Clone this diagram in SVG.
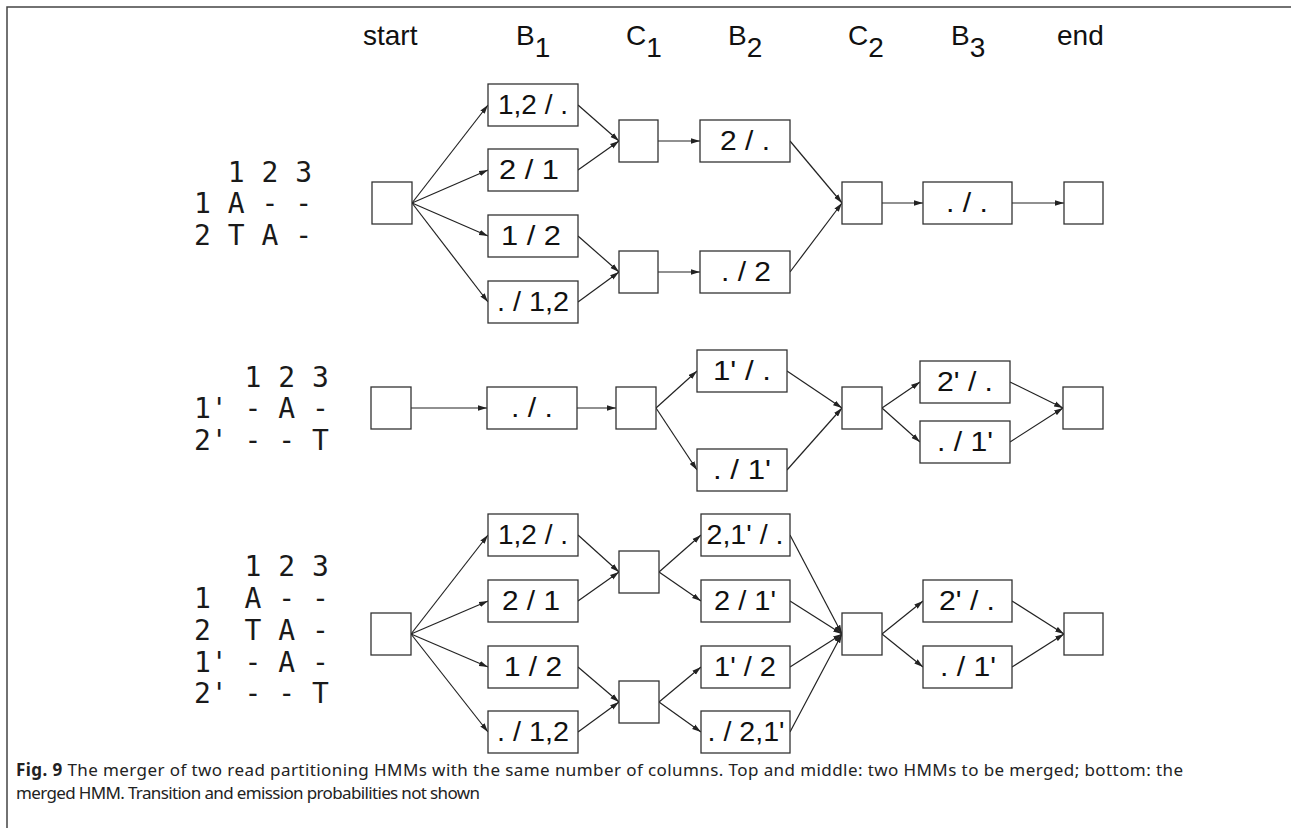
<svg xmlns="http://www.w3.org/2000/svg" width="1291" height="828" viewBox="0 0 1291 828">
<style>
.frame{stroke:#444;stroke-width:1.5;fill:none}
.box{fill:#fff;stroke:#333;stroke-width:1.3}
.lbl{font-family:"Liberation Sans",Arial,sans-serif;font-size:27px;fill:#111;text-anchor:middle}
.hdr{font-family:"Liberation Sans",Arial,sans-serif;font-size:28px;fill:#111}
.aln{font-family:"DejaVu Sans Mono",monospace;font-size:28px;fill:#1a1a1a;white-space:pre}
.cap{font-family:"Noto Sans","Open Sans",sans-serif;font-size:17px;fill:#222}
.edge{stroke:#222;stroke-width:1.2;fill:none;marker-end:url(#arr)}
</style>
<defs>
<marker id="arr" markerUnits="userSpaceOnUse" viewBox="0 0 10 6" refX="10" refY="3" markerWidth="9" markerHeight="6" orient="auto">
<path d="M0,0 L10,3 L0,6 z" fill="#222"/>
</marker>
</defs>
<rect width="1291" height="828" fill="#fff"/>
<path class="frame" d="M7,828 V7 H1291"/>

<g id="headers">
<text class="hdr" x="363" y="45">start</text>
<text class="hdr" x="516" y="45">B<tspan dy="12">1</tspan></text>
<text class="hdr" x="626" y="45">C<tspan dy="12">1</tspan></text>
<text class="hdr" x="728" y="45">B<tspan dy="12">2</tspan></text>
<text class="hdr" x="848" y="45">C<tspan dy="12">2</tspan></text>
<text class="hdr" x="951" y="45">B<tspan dy="12">3</tspan></text>
<text class="hdr" x="1057" y="45">end</text>
</g>

<g id="alignment-top">
<text class="aln" x="194" y="182" xml:space="preserve">  1 2 3</text>
<text class="aln" x="194" y="213" xml:space="preserve">1 A - -</text>
<text class="aln" x="194" y="245" xml:space="preserve">2 T A -</text>
</g>
<g id="alignment-middle">
<text class="aln" x="194" y="387" xml:space="preserve">   1 2 3</text>
<text class="aln" x="194" y="418" xml:space="preserve">1' - A -</text>
<text class="aln" x="194" y="450" xml:space="preserve">2' - - T</text>
</g>
<g id="alignment-bottom">
<text class="aln" x="194" y="576" xml:space="preserve">   1 2 3</text>
<text class="aln" x="194" y="608" xml:space="preserve">1  A - -</text>
<text class="aln" x="194" y="640" xml:space="preserve">2  T A -</text>
<text class="aln" x="194" y="672" xml:space="preserve">1' - A -</text>
<text class="aln" x="194" y="703" xml:space="preserve">2' - - T</text>
</g>

<g id="connectors">
<!-- top -->
<line class="edge" x1="412" y1="203" x2="488" y2="105"/>
<line class="edge" x1="412" y1="203" x2="488" y2="170"/>
<line class="edge" x1="412" y1="203" x2="488" y2="236"/>
<line class="edge" x1="412" y1="203" x2="488" y2="302"/>
<line class="edge" x1="578" y1="105" x2="619" y2="141"/>
<line class="edge" x1="578" y1="170" x2="619" y2="141"/>
<line class="edge" x1="578" y1="236" x2="619" y2="272"/>
<line class="edge" x1="578" y1="302" x2="619" y2="272"/>
<line class="edge" x1="658" y1="141" x2="700" y2="141"/>
<line class="edge" x1="658" y1="272" x2="700" y2="272"/>
<line class="edge" x1="790" y1="141" x2="842" y2="203"/>
<line class="edge" x1="790" y1="272" x2="842" y2="203"/>
<line class="edge" x1="882" y1="203" x2="923" y2="203"/>
<line class="edge" x1="1012" y1="203" x2="1064" y2="203"/>
<!-- middle -->
<line class="edge" x1="411" y1="408" x2="487" y2="408"/>
<line class="edge" x1="577" y1="408" x2="616" y2="408"/>
<line class="edge" x1="656" y1="408" x2="697" y2="371"/>
<line class="edge" x1="656" y1="408" x2="697" y2="470"/>
<line class="edge" x1="787" y1="371" x2="842" y2="408"/>
<line class="edge" x1="787" y1="470" x2="842" y2="408"/>
<line class="edge" x1="882" y1="408" x2="920" y2="382"/>
<line class="edge" x1="882" y1="408" x2="920" y2="442"/>
<line class="edge" x1="1010" y1="382" x2="1063" y2="408"/>
<line class="edge" x1="1010" y1="442" x2="1063" y2="408"/>
<!-- bottom -->
<line class="edge" x1="411" y1="634" x2="488" y2="535"/>
<line class="edge" x1="411" y1="634" x2="488" y2="601"/>
<line class="edge" x1="411" y1="634" x2="488" y2="667"/>
<line class="edge" x1="411" y1="634" x2="488" y2="732"/>
<line class="edge" x1="578" y1="535" x2="619" y2="572"/>
<line class="edge" x1="578" y1="601" x2="619" y2="572"/>
<line class="edge" x1="578" y1="667" x2="619" y2="702"/>
<line class="edge" x1="578" y1="732" x2="619" y2="702"/>
<line class="edge" x1="659" y1="572" x2="701" y2="535"/>
<line class="edge" x1="659" y1="572" x2="701" y2="601"/>
<line class="edge" x1="659" y1="702" x2="701" y2="667"/>
<line class="edge" x1="659" y1="702" x2="701" y2="732"/>
<line class="edge" x1="790" y1="535" x2="842" y2="634"/>
<line class="edge" x1="790" y1="601" x2="842" y2="634"/>
<line class="edge" x1="790" y1="667" x2="842" y2="634"/>
<line class="edge" x1="790" y1="732" x2="842" y2="634"/>
<line class="edge" x1="882" y1="634" x2="923" y2="601"/>
<line class="edge" x1="882" y1="634" x2="923" y2="667"/>
<line class="edge" x1="1012" y1="601" x2="1064" y2="634"/>
<line class="edge" x1="1012" y1="667" x2="1064" y2="634"/>
</g>

<!-- top HMM -->
<g id="a-start"><rect class="box" x="372" y="182" width="40" height="42"/></g>
<g id="a-b1-1"><rect class="box" x="488" y="84" width="90" height="42"/><text class="lbl" x="533" y="114" textLength="70" lengthAdjust="spacingAndGlyphs">1,2 / .</text></g>
<g id="a-b1-2"><rect class="box" x="488" y="149" width="90" height="42"/><text class="lbl" x="529" y="179" textLength="60" lengthAdjust="spacingAndGlyphs">2 / 1</text></g>
<g id="a-b1-3"><rect class="box" x="488" y="215" width="90" height="42"/><text class="lbl" x="531" y="245" textLength="60" lengthAdjust="spacingAndGlyphs">1 / 2</text></g>
<g id="a-b1-4"><rect class="box" x="488" y="281" width="90" height="42"/><text class="lbl" x="533" y="311" textLength="72" lengthAdjust="spacingAndGlyphs">. / 1,2</text></g>
<g id="a-c1-1"><rect class="box" x="619" y="120" width="39" height="42"/></g>
<g id="a-c1-2"><rect class="box" x="619" y="251" width="39" height="42"/></g>
<g id="a-b2-1"><rect class="box" x="700" y="120" width="90" height="42"/><text class="lbl" x="745" y="150" textLength="50" lengthAdjust="spacingAndGlyphs">2 / .</text></g>
<g id="a-b2-2"><rect class="box" x="700" y="251" width="90" height="42"/><text class="lbl" x="746" y="281" textLength="50" lengthAdjust="spacingAndGlyphs">. / 2</text></g>
<g id="a-c2"><rect class="box" x="842" y="182" width="40" height="42"/></g>
<g id="a-b3"><rect class="box" x="923" y="182" width="89" height="42"/><text class="lbl" x="967" y="212" textLength="42" lengthAdjust="spacingAndGlyphs">. / .</text></g>
<g id="a-end"><rect class="box" x="1064" y="182" width="39" height="42"/></g>

<!-- middle HMM -->
<g id="b-start"><rect class="box" x="371" y="387" width="40" height="42"/></g>
<g id="b-b1"><rect class="box" x="487" y="387" width="90" height="42"/><text class="lbl" x="532" y="417" textLength="42" lengthAdjust="spacingAndGlyphs">. / .</text></g>
<g id="b-c1"><rect class="box" x="616" y="387" width="40" height="42"/></g>
<g id="b-b2-1"><rect class="box" x="697" y="350" width="90" height="42"/><text class="lbl" x="742" y="380" textLength="58" lengthAdjust="spacingAndGlyphs">1' / .</text></g>
<g id="b-b2-2"><rect class="box" x="697" y="449" width="90" height="42"/><text class="lbl" x="742" y="479" textLength="58" lengthAdjust="spacingAndGlyphs">. / 1'</text></g>
<g id="b-c2"><rect class="box" x="842" y="387" width="40" height="42"/></g>
<g id="b-b3-1"><rect class="box" x="920" y="361" width="90" height="42"/><text class="lbl" x="965" y="391" textLength="56" lengthAdjust="spacingAndGlyphs">2' / .</text></g>
<g id="b-b3-2"><rect class="box" x="920" y="421" width="90" height="42"/><text class="lbl" x="965" y="451" textLength="56" lengthAdjust="spacingAndGlyphs">. / 1'</text></g>
<g id="b-end"><rect class="box" x="1063" y="387" width="40" height="42"/></g>

<!-- merged HMM -->
<g id="c-start"><rect class="box" x="371" y="613" width="40" height="42"/></g>
<g id="c-b1-1"><rect class="box" x="488" y="514" width="90" height="42"/><text class="lbl" x="533" y="544" textLength="70" lengthAdjust="spacingAndGlyphs">1,2 / .</text></g>
<g id="c-b1-2"><rect class="box" x="488" y="580" width="90" height="42"/><text class="lbl" x="531" y="610" textLength="58" lengthAdjust="spacingAndGlyphs">2 / 1</text></g>
<g id="c-b1-3"><rect class="box" x="488" y="646" width="90" height="42"/><text class="lbl" x="533" y="676" textLength="58" lengthAdjust="spacingAndGlyphs">1 / 2</text></g>
<g id="c-b1-4"><rect class="box" x="488" y="711" width="90" height="42"/><text class="lbl" x="533" y="741" textLength="72" lengthAdjust="spacingAndGlyphs">. / 1,2</text></g>
<g id="c-c1-1"><rect class="box" x="619" y="551" width="40" height="42"/></g>
<g id="c-c1-2"><rect class="box" x="619" y="681" width="40" height="42"/></g>
<g id="c-b2-1"><rect class="box" x="701" y="514" width="89" height="42"/><text class="lbl" x="745" y="544" textLength="77" lengthAdjust="spacingAndGlyphs">2,1' / .</text></g>
<g id="c-b2-2"><rect class="box" x="701" y="580" width="89" height="42"/><text class="lbl" x="745" y="610" textLength="62" lengthAdjust="spacingAndGlyphs">2 / 1'</text></g>
<g id="c-b2-3"><rect class="box" x="701" y="646" width="89" height="42"/><text class="lbl" x="745" y="676" textLength="62" lengthAdjust="spacingAndGlyphs">1' / 2</text></g>
<g id="c-b2-4"><rect class="box" x="701" y="711" width="89" height="42"/><text class="lbl" x="746" y="741" textLength="77" lengthAdjust="spacingAndGlyphs">. / 2,1'</text></g>
<g id="c-c2"><rect class="box" x="842" y="613" width="40" height="42"/></g>
<g id="c-b3-1"><rect class="box" x="923" y="580" width="89" height="42"/><text class="lbl" x="967" y="610" textLength="56" lengthAdjust="spacingAndGlyphs">2' / .</text></g>
<g id="c-b3-2"><rect class="box" x="923" y="646" width="89" height="42"/><text class="lbl" x="968" y="676" textLength="56" lengthAdjust="spacingAndGlyphs">. / 1'</text></g>
<g id="c-end"><rect class="box" x="1064" y="613" width="39" height="42"/></g>

<g id="caption">
<text class="cap" x="16" y="776" textLength="1167"><tspan font-weight="bold">Fig. 9</tspan> The merger of two read partitioning HMMs with the same number of columns. Top and middle: two HMMs to be merged; bottom: the</text>
<text class="cap" x="16" y="799" textLength="464">merged HMM. Transition and emission probabilities not shown</text>
</g>
</svg>
